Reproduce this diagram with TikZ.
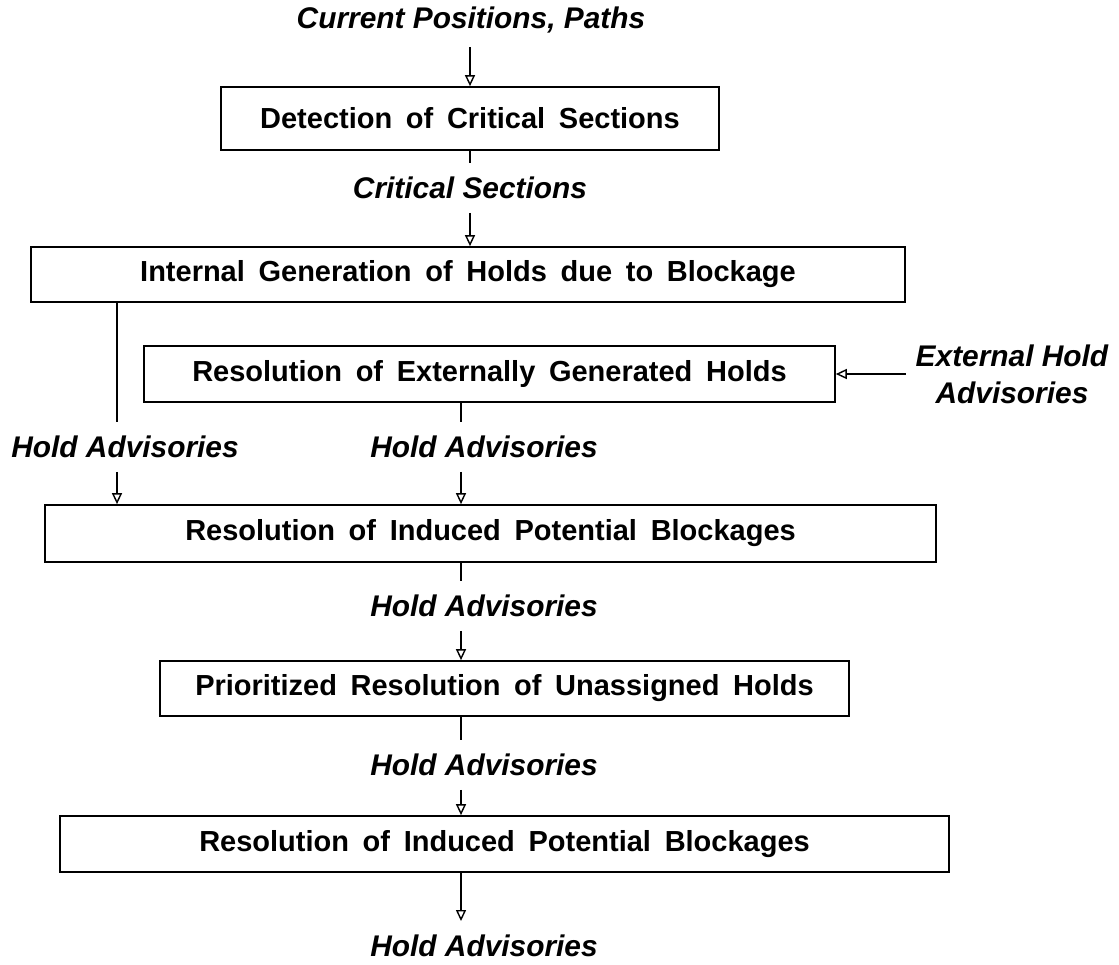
\documentclass[tikz,border=0pt]{standalone}
\usepackage{fontspec}
\setmainfont{Liberation Sans}
\newfontfamily\widesans[WordSpace=1.7]{Liberation Sans}
\usetikzlibrary{arrows.meta}

\begin{document}
\begin{tikzpicture}[x=0.02cm, y=-0.02cm,
    stage/.style={draw, line width=1pt, minimum height=1.12cm, inner sep=0pt,
                  font=\widesans\fontsize{16.5}{20}\selectfont\bfseries, align=center},
    flow/.style={font=\fontsize{17}{21}\selectfont\bfseries\itshape,
                 inner sep=0pt, outer ysep=0.28cm, outer xsep=0.2cm, align=center},
    arrow/.style={-{Triangle[open, length=0.22cm, width=0.2cm]}, line width=0.8pt},
    link/.style={line width=0.8pt}
  ]
  \useasboundingbox (0,0) rectangle (1119,964);

  \node[flow] (cur) at (471,20) {Current Positions, Paths};
  \node[stage, minimum width=9.96cm, minimum height=1.26cm] (det) at (470,118.5) {Detection of Critical Sections};
  \node[flow] (crit) at (470,188) {Critical Sections};
  \node[stage, minimum width=17.48cm, minimum height=1.1cm] (int) at (468,274.5) {Internal Generation of Holds due to Blockage};
  \node[stage, minimum width=13.82cm] (ext) at (489.5,374) {Resolution of Externally Generated Holds};
  \node[flow] (extin) at (1012,374) {External Hold\\Advisories};
  \node[flow] (holdL) at (125,447) {Hold Advisories};
  \node[flow] (holdM) at (484,447) {Hold Advisories};
  \node[stage, minimum width=17.82cm, minimum height=1.14cm] (ind) at (490.5,533.5) {Resolution of Induced Potential Blockages};
  \node[flow] (holdA) at (484,606) {Hold Advisories};
  \node[stage, minimum width=13.78cm, minimum height=1.1cm] (pri) at (504.5,688.5) {Prioritized Resolution of Unassigned Holds};
  \node[flow] (holdB) at (484,765) {Hold Advisories};
  \node[stage, minimum width=17.78cm] (ind2) at (504.5,844) {Resolution of Induced Potential Blockages};
  \node[flow] (out) at (484,946) {Hold Advisories};

  \coordinate (axis) at (461,0);
  \coordinate (lft) at (117,0);

  \draw[arrow] (cur.south -| det) -- (det);
  \draw[link] (det) -- (crit);
  \draw[arrow] (crit.south) -- (crit.south |- int.north);

  \draw[link] (int.south -| lft) -- (holdL.north -| lft);
  \draw[arrow] (holdL.south -| lft) -- (ind.north -| lft);

  \draw[arrow] (extin.west) -- (ext.east);
  \draw[link] (ext.south -| axis) -- (holdM.north -| axis);
  \draw[arrow] (holdM.south -| axis) -- (ind.north -| axis);

  \draw[link] (ind.south -| axis) -- (holdA.north -| axis);
  \draw[arrow] (holdA.south -| axis) -- (pri.north -| axis);
  \draw[link] (pri.south -| axis) -- (holdB.north -| axis);
  \draw[arrow] (holdB.south -| axis) -- (ind2.north -| axis);
  \draw[arrow] (ind2.south -| axis) -- (out.north -| axis);
\end{tikzpicture}
\end{document}
